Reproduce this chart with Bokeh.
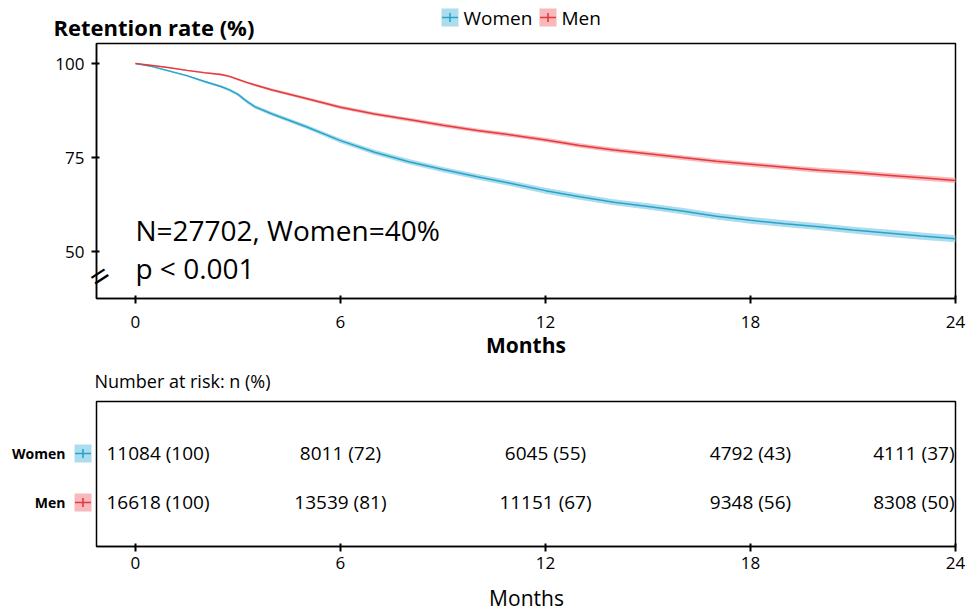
from bokeh.plotting import figure
from bokeh.models import (ColumnDataSource, Range1d, FixedTicker, Label, LinearAxis)
from bokeh.layouts import column, row
from bokeh.embed import file_html
from bokeh.resources import INLINE
from bokeh.core.properties import value

# ---------------- data ----------------
months = [0, 0.5, 1, 1.5, 2, 2.5, 2.75, 3, 3.25, 3.5, 4, 5, 6, 7, 8, 9, 10, 11, 12,
          13, 14, 15, 16, 17, 18, 19, 20, 21, 22, 23, 24]
women = [100, 99.2, 98.0, 96.8, 95.3, 93.9, 93.0, 91.8, 90.0, 88.5, 86.6, 83.2, 79.5,
         76.4, 73.9, 71.8, 69.9, 68.1, 66.2, 64.6, 63.1, 62.0, 60.8, 59.4, 58.3,
         57.4, 56.6, 55.7, 54.9, 54.1, 53.4]
men = [100, 99.5, 98.9, 98.2, 97.6, 97.1, 96.6, 95.8, 95.0, 94.3, 93.0, 90.7, 88.4,
       86.6, 85.1, 83.6, 82.2, 81.0, 79.7, 78.2, 77.0, 76.0, 75.0, 74.0, 73.2,
       72.4, 71.6, 71.0, 70.3, 69.6, 68.9]
women_ci = [0.0, 0.15, 0.2, 0.25, 0.3, 0.35, 0.4, 0.45, 0.45, 0.5, 0.5, 0.55, 0.6,
            0.65, 0.7, 0.7, 0.75, 0.75, 0.8, 0.8, 0.8, 0.85, 0.85, 0.85, 0.9,
            0.9, 0.9, 0.9, 0.95, 0.95, 0.95]
men_ci = [0.0, 0.1, 0.15, 0.2, 0.22, 0.25, 0.28, 0.3, 0.32, 0.35, 0.37, 0.4, 0.45,
          0.48, 0.5, 0.52, 0.55, 0.55, 0.58, 0.6, 0.6, 0.62, 0.62, 0.64, 0.65,
          0.65, 0.66, 0.67, 0.68, 0.7, 0.7]

risk_months = [0, 6, 12, 18, 24]
women_n = [11084, 8011, 6045, 4792, 4111]
women_pct = [100, 72, 55, 43, 37]
men_n = [16618, 13539, 11151, 9348, 8308]
men_pct = [100, 81, 67, 56, 50]
groups = ["Women", "Men"]
group_rows = [2, 1]

x_ticks = [0, 6, 12, 18, 24]
y_ticks = [50, 75, 100]

FONT = "Open Sans"
BLUE = "#2aa3c7"
BLUE_BAND = "#acddef"
RED = "#e5393c"
RED_BAND = "#f7b9bb"
SWATCH = [BLUE_BAND, RED_BAND]
MARK = [BLUE, RED]

W = 966
XR = (-1.14, 24.0)
H_HEAD, H_TOP, H_MID, H_LOW = 42, 325, 29, 186


def bare(fig):
    fig.xgrid.visible = False
    fig.ygrid.visible = False
    fig.outline_line_color = None
    fig.background_fill_color = "white"
    fig.border_fill_color = "white"


def strip_fig(height):
    f = figure(width=W, height=height, output_backend="svg", toolbar_location=None,
               x_range=Range1d(0, W), y_range=Range1d(height, 0), x_axis_type=None,
               y_axis_type=None, min_border=0, min_border_left=0, min_border_right=0,
               min_border_top=0, min_border_bottom=0, frame_align=False)
    bare(f)
    return f


def swatches(fig, xs, ys):
    fig.rect(x=xs, y=ys, width=17, height=18, width_units="screen",
             height_units="screen", fill_color=SWATCH, line_color=None)
    fig.rect(x=xs, y=ys, width=16, height=1.6, width_units="screen",
             height_units="screen", fill_color=MARK, line_color=None)
    fig.rect(x=xs, y=ys, width=1.6, height=9, width_units="screen",
             height_units="screen", fill_color=MARK, line_color=None)


# ---------------- header: title + legend ----------------
h = strip_fig(H_HEAD)
h.add_layout(Label(x=53, y=26, text="Retention rate (%)", text_font=FONT,
                   text_font_style="bold", text_font_size="22px", text_baseline="middle",
                   text_color="black"))
swatches(h, [449.5, 547.5], [17, 17])
h.text(x=[463, 561], y=[17, 17], text=groups, text_align="left", text_baseline="middle",
       text_font=value(FONT), text_font_size="19px", text_color="black")

# ---------------- top: retention curves ----------------
p = figure(width=W, height=H_TOP, output_backend="svg", toolbar_location=None,
           x_range=Range1d(*XR), y_range=Range1d(37.5, 105.35),
           min_border_left=96, min_border_right=11, min_border_top=1, min_border_bottom=69)
bare(p)
p.outline_line_color = "black"
p.outline_line_width = 1.5

src_w = ColumnDataSource(dict(x=months, y=women,
                              lo=[a - b for a, b in zip(women, women_ci)],
                              hi=[a + b for a, b in zip(women, women_ci)]))
src_m = ColumnDataSource(dict(x=months, y=men,
                              lo=[a - b for a, b in zip(men, men_ci)],
                              hi=[a + b for a, b in zip(men, men_ci)]))
p.varea(x="x", y1="lo", y2="hi", source=src_w, fill_color=BLUE_BAND)
p.varea(x="x", y1="lo", y2="hi", source=src_m, fill_color=RED_BAND)
p.line("x", "y", source=src_w, line_color=BLUE, line_width=1.5)
p.line("x", "y", source=src_m, line_color=RED, line_width=1.5)

for ax in (p.xaxis[0], p.yaxis[0]):
    ax.axis_line_color = "black"
    ax.axis_line_width = 1.5
    ax.major_tick_line_color = "black"
    ax.major_tick_line_width = 2
    ax.major_tick_in = 3
    ax.major_tick_out = 5
    ax.minor_tick_line_color = None
    ax.major_label_text_font = FONT
    ax.major_label_text_font_size = "17px"
    ax.major_label_text_color = "black"

p.xaxis.ticker = FixedTicker(ticks=x_ticks)
p.yaxis.ticker = FixedTicker(ticks=y_ticks)
p.xaxis.major_label_standoff = 12
p.yaxis.major_label_standoff = 7
p.xaxis.axis_label = "Months"
p.xaxis.axis_label_text_font = FONT
p.xaxis.axis_label_text_font_style = "bold"
p.xaxis.axis_label_text_font_size = "21px"
p.xaxis.axis_label_text_color = "black"
p.xaxis.axis_label_standoff = 0

# axis break mark drawn as a rotated "=" label on an extra, line-less axis
brk = LinearAxis(ticker=FixedTicker(ticks=[45]), major_label_overrides={45: "="},
                 axis_line_color=None, major_tick_line_color=None,
                 minor_tick_line_color=None, major_tick_in=0, major_tick_out=0,
                 major_label_standoff=-55, major_label_orientation=0.58,
                 major_label_text_font=FONT, major_label_text_font_size="34px",
                 major_label_text_color="black")
p.add_layout(brk, "left")

p.add_layout(Label(x=0, y=55.85, text="N=27702, Women=40%", text_font=FONT,
                   text_font_size="28px", text_baseline="alphabetic", text_color="black"))
p.add_layout(Label(x=0, y=45.5, text="p < 0.001", text_font=FONT,
                   text_font_size="28px", text_baseline="alphabetic", text_color="black"))

# ---------------- middle header ----------------
m = strip_fig(H_MID)
m.add_layout(Label(x=94, y=13, text="Number at risk: n (%)", text_font=FONT,
                   text_font_size="18px", text_baseline="middle", text_color="black"))

# ---------------- bottom: number at risk ----------------
YR = Range1d(0.102, 3.061)
s = figure(width=95, height=H_LOW, output_backend="svg", toolbar_location=None,
           x_range=Range1d(0, 95), y_range=YR, x_axis_type=None, y_axis_type=None,
           min_border_left=0, min_border_right=0, min_border_top=5, min_border_bottom=36)
bare(s)
s.text(x=[65] * 2, y=group_rows, text=groups, text_align="right", text_baseline="middle",
       text_font=value(FONT), text_font_style="bold", text_font_size="14px",
       text_color="black")
swatches(s, [82.5] * 2, group_rows)

q = figure(width=W - 95, height=H_LOW, output_backend="svg", toolbar_location=None,
           x_range=Range1d(*XR), y_range=YR,
           min_border_left=1, min_border_right=11, min_border_top=5, min_border_bottom=36)
bare(q)
q.outline_line_color = "black"
q.outline_line_width = 1.5
q.yaxis.visible = False

for yv, ns, pcts in zip(group_rows, [women_n, men_n], [women_pct, men_pct]):
    labels = [f"{n} ({pc})" for n, pc in zip(ns, pcts)]
    first = ColumnDataSource(dict(x=risk_months[:1], y=[yv], t=labels[:1]))
    mid = ColumnDataSource(dict(x=risk_months[1:-1], y=[yv] * (len(risk_months) - 2),
                                t=labels[1:-1]))
    last = ColumnDataSource(dict(x=risk_months[-1:], y=[yv], t=labels[-1:]))
    q.text("x", "y", text="t", source=first, text_align="left", text_baseline="middle",
           x_offset=-29, text_font=value(FONT), text_font_size="19px", text_color="black")
    q.text("x", "y", text="t", source=mid, text_align="center", text_baseline="middle",
           text_font=value(FONT), text_font_size="19px", text_color="black")
    q.text("x", "y", text="t", source=last, text_align="right", text_baseline="middle",
           x_offset=-1, text_font=value(FONT), text_font_size="19px", text_color="black")

q.xaxis.ticker = FixedTicker(ticks=x_ticks)
q.xaxis.axis_line_color = "black"
q.xaxis.axis_line_width = 1.5
q.xaxis.major_tick_line_color = "black"
q.xaxis.major_tick_line_width = 2
q.xaxis.major_tick_in = 3
q.xaxis.major_tick_out = 5
q.xaxis.minor_tick_line_color = None
q.xaxis.major_label_text_font = FONT
q.xaxis.major_label_text_font_size = "17px"
q.xaxis.major_label_text_color = "black"
q.xaxis.major_label_standoff = 5

# ---------------- footer: lower axis title ----------------
f = strip_fig(611 - H_HEAD - H_TOP - H_MID - H_LOW)
f.add_layout(Label(x=526, y=15, text="Months", text_font=FONT, text_font_size="21px",
                   text_align="center", text_baseline="middle", text_color="black"))

layout = column(h, p, m, row(s, q, spacing=0), f, spacing=0)
open("out.html", "w").write(file_html(layout, INLINE))
